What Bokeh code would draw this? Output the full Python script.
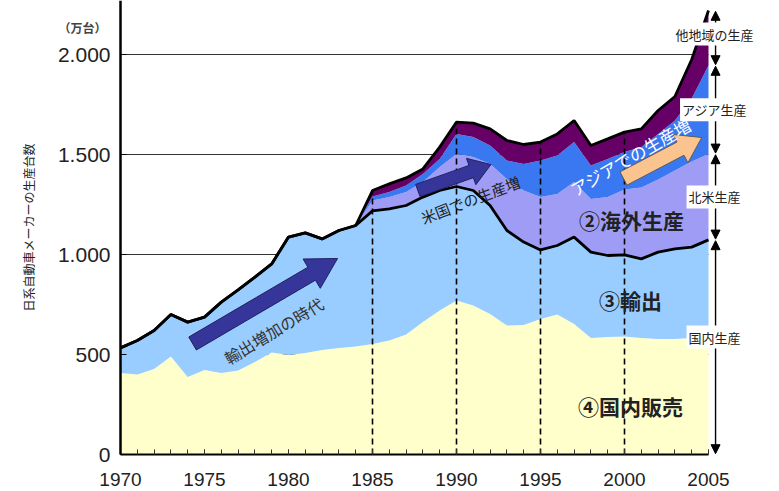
import math
from bokeh.plotting import figure
from bokeh.models import ColumnDataSource, FixedTicker, Label, Arrow, NormalHead, Range1d
from bokeh.embed import file_html
from bokeh.resources import INLINE

# ---------------- data (万台) ----------------
years = list(range(1970, 2006))
domestic_sales = [407, 400, 428, 490, 387, 423, 408, 420, 462, 510,
                  498, 507, 523, 533, 540, 553, 570, 600, 662, 720,
                  770, 745, 703, 645, 648, 678, 700, 653, 583, 587,
                  590, 583, 578, 578, 583, 587]
exports = [126, 170, 192, 210, 275, 264, 354, 403, 425, 443,
           589, 601, 555, 587, 605, 665, 658, 645, 625, 600,
           570, 575, 542, 475, 414, 345, 345, 434, 429, 408,
           408, 395, 434, 450, 454, 486]
north_america = [0] * 15 + [52, 59, 67, 75, 117, 163, 167, 208, 258, 258,
                            264, 258, 275, 266, 292, 327, 357, 363, 392, 428, 430]
asia = [0] * 15 + [20, 25, 33, 41, 41, 100, 100, 92, 92, 133,
                   183, 192, 200, 167, 191, 187, 202, 228, 250, 315, 442]
other_regions = [0] * 15 + [30, 41, 38, 25, 59, 59, 70, 83, 100, 97,
                            92, 108, 108, 100, 100, 100, 91, 117, 120, 195, 275]

x_ticks = [1970, 1975, 1980, 1985, 1990, 1995, 2000, 2005]
y_ticks = [0, 500, 1000, 1500, 2000]
y_tick_labels = ["0", "500", "1.000", "1.500", "2.000"]
marker_years = [1985, 1990, 1995, 2000]

colors = ["#ffffcc", "#99ccff", "#9f9cf6", "#3a78f2", "#660066"]

# derived
dom_prod = [s + e for s, e in zip(domestic_sales, exports)]
total = [d + n + a + o for d, n, a, o in zip(dom_prod, north_america, asia, other_regions)]

# ---------------- figure (frame fills the canvas; axes are fixed inside) ----------------
W, H = 775, 490
KX = 588 / 35.0                  # px per year
X0 = 1970 - 120 / KX
X_END = X0 + W / KX
KY = 0.2                         # px per unit
Y0 = -(H - 454) / KY
Y_END = 454 / KY

JP = "Noto Sans CJK JP"
NUM = "Liberation Sans"

p = figure(width=W, height=H, output_backend="svg", toolbar_location=None,
           x_range=Range1d(X0, X_END), y_range=Range1d(Y0, Y_END),
           min_border_left=0, min_border_right=0, min_border_top=0, min_border_bottom=0)
p.outline_line_color = None
p.xgrid.visible = False
p.ygrid.visible = False
p.background_fill_color = "white"

# horizontal grid lines (behind areas)
p.segment(x0=[1970] * 4, y0=y_ticks[1:], x1=[2005] * 4, y1=y_ticks[1:],
          line_color="#333333", line_width=1)

src = ColumnDataSource(dict(year=years, sales=domestic_sales, exports=exports,
                            na=north_america, asia=asia, other=other_regions))
p.varea_stack(["sales", "exports", "na", "asia", "other"], x="year", source=src,
              color=colors)

# dashed markers
tops = [total[years.index(m)] for m in marker_years]
p.segment(x0=marker_years, y0=[0] * 4, x1=marker_years, y1=tops,
          line_color="black", line_width=1.6, line_dash="6 4")

p.line(years, dom_prod, line_color="black", line_width=2.8)
p.line(years, total, line_color="black", line_width=2.8)

# ---------------- block arrows ----------------
def block_arrow(x0, y0, x1, y1, shaft, head_w, head_len):
    px0, py0, px1, py1 = x0 * KX, y0 * KY, x1 * KX, y1 * KY
    dx, dy = px1 - px0, py1 - py0
    L = math.hypot(dx, dy)
    ux, uy = dx / L, dy / L
    nx, ny = -uy, ux
    bx, by = px1 - ux * head_len, py1 - uy * head_len
    pts = [(px0 + nx * shaft / 2, py0 + ny * shaft / 2),
           (bx + nx * shaft / 2, by + ny * shaft / 2),
           (bx + nx * head_w / 2, by + ny * head_w / 2),
           (px1, py1),
           (bx - nx * head_w / 2, by - ny * head_w / 2),
           (bx - nx * shaft / 2, by - ny * shaft / 2),
           (px0 - nx * shaft / 2, py0 - ny * shaft / 2)]
    return [q[0] / KX for q in pts], [q[1] / KY for q in pts]

xs, ys = block_arrow(1974.29, 555, 1982.92, 980, 15, 34, 30)
p.patch(xs, ys, fill_color="#35359a", line_color="#22225e", line_width=1)
xs, ys = block_arrow(1987.7, 1320, 1992.05, 1450, 13, 28, 21)
p.patch(xs, ys, fill_color="#35359a", line_color="#22225e", line_width=1)
xs, ys = block_arrow(1999.94, 1380, 2004.6, 1585, 15, 32, 24)
p.patch(xs, ys, fill_color="#fbc48e", line_color="#5a5a5a", line_width=1)

# ---------------- texts ----------------
def txt(x, y, t, size, color="#222222", angle=0.0, bold=False, bg=None):
    kw = {}
    if bg is not None:
        kw = dict(background_fill_color=bg, padding=2)
    p.add_layout(Label(x=x, y=y, text=t, text_font=JP, text_font_size=size,
                       text_color=color, angle=angle, text_align="center",
                       text_baseline="middle",
                       text_font_style="bold" if bold else "normal", **kw))

txt(1979.11, 620, "輸出増加の時代", "16px", "#333333", math.radians(31))
txt(1990.83, 1275, "米国での生産増", "15px", "#222222", math.radians(21))
txt(2000.36, 1490, "アジアでの生産増", "17px", "white", math.radians(30))
txt(2000.42, 1175, "②海外生産", "21px", "#222222", bold=True)
txt(2000.36, 775, "③輸出", "21px", "#222222", bold=True)
txt(2000.36, 245, "④国内販売", "21px", "#222222", bold=True)
txt(1967.74, 2135, "（万台）", "12px", "#444444", bold=True)

# right side range arrows
AX = 2005.42
d05, n05 = dom_prod[-1], dom_prod[-1] + north_america[-1]
a05, t05 = n05 + asia[-1], total[-1]
for lo, hi in [(0, d05), (d05, n05), (n05, a05), (a05, t05)]:
    p.add_layout(Arrow(start=NormalHead(size=9, fill_color="black", line_color="black"),
                       end=NormalHead(size=9, fill_color="black", line_color="black"),
                       x_start=AX, y_start=lo + 4, x_end=AX, y_end=hi - 4,
                       line_width=1.4, line_color="black"))
LX = 2005.36
txt(LX, domestic_sales[-1], "国内生産", "13px", bg="white")
txt(LX, (d05 + n05) / 2, "北米生産", "13px", bg="white")
txt(LX, (n05 + a05) / 2, "アジア生産", "13px", bg="white")
txt(LX, (a05 + t05) / 2 + 20, "他地域の生産", "13px", bg="white")

# ---------------- axes ----------------
xa = p.xaxis[0]
xa.fixed_location = 0
xa.ticker = FixedTicker(ticks=x_ticks, minor_ticks=years)
xa.bounds = (1970, 2005)
xa.axis_line_width = 2
xa.axis_line_color = "black"
xa.major_tick_in = 5
xa.major_tick_out = 0
xa.minor_tick_in = 5
xa.minor_tick_out = 0
xa.major_tick_line_color = "#333333"
xa.minor_tick_line_color = "#333333"
xa.major_label_text_font = NUM
xa.major_label_text_font_size = "19px"
xa.major_label_text_color = "#222222"
xa.major_label_standoff = 18

ya = p.yaxis[0]
ya.fixed_location = 1970
ya.bounds = (0, Y_END)
ya.ticker = FixedTicker(ticks=y_ticks)
ya.major_label_overrides = {t: l for t, l in zip(y_ticks, y_tick_labels)}
ya.axis_line_width = 2.5
ya.axis_line_color = "black"
ya.major_tick_in = 6
ya.major_tick_out = 0
ya.minor_tick_line_color = None
ya.major_label_text_font = NUM
ya.major_label_text_font_size = "21px"
ya.major_label_text_color = "#222222"
ya.major_label_standoff = 10
ya.axis_label = "日系自動車メーカーの生産台数"
ya.axis_label_text_font = JP
ya.axis_label_text_font_size = "12px"
ya.axis_label_text_font_style = "normal"
ya.axis_label_text_color = "#222222"
ya.axis_label_standoff = 18

open("out.html", "w").write(file_html(p, INLINE))
